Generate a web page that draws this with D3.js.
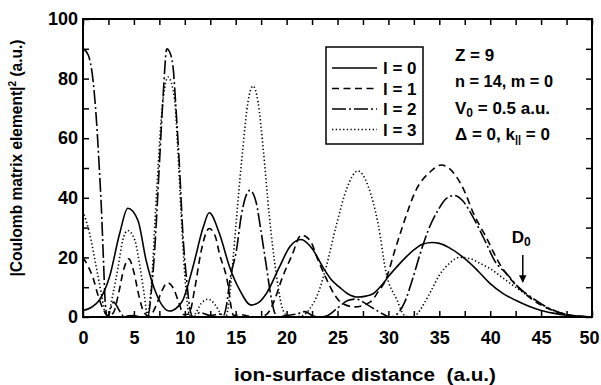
<!DOCTYPE html>
<html>
<head>
<meta charset="utf-8">
<script src="https://cdn.jsdelivr.net/npm/d3@7"></script>
<style>
  body { margin: 0; background: #fff; }
  svg { display: block; font-family: "Liberation Sans", Arial, sans-serif; font-weight: bold; }
</style>
</head>
<body>
<script>
// |Coulomb matrix element|^2 vs ion-surface distance
const l0 = [[0, 2.2], [0.8, 3.2], [1.6, 5.6], [2.6, 13.4], [3.6, 28], [4.4, 36.5], [5.4, 32.4], [6.2, 19], [7.2, 7.8], [8.5, 2], [9.3, 3.4], [9.8, 5.6], [10.8, 16.8], [11.8, 30], [12.4, 35], [13.4, 28], [14.4, 16.8], [15.4, 9], [16.5, 4], [17.3, 5], [18, 7.8], [19.3, 16.8], [20.3, 23.5], [21.4, 26], [22.5, 23], [23.6, 16.5], [24.4, 12.5], [25.2, 10], [26, 7.8], [26.9, 6.7], [27.8, 7], [28.5, 7.8], [29.3, 10.5], [30.1, 14], [31, 17.5], [31.7, 20], [32.5, 22.5], [33.4, 24.5], [34.3, 25], [35, 24.7], [36, 23.2], [37.5, 19.6], [38.5, 16.5], [40, 11.2], [41.2, 8], [42.5, 5.6], [43.8, 3.6], [45, 2.2], [46.2, 1.3], [47.5, 0.6], [49, 0.15], [50, 0]]

const l1 = [[0, 20], [0.5, 17], [1, 13], [1.5, 7], [2, 2.5], [2.5, 0.3], [3, 1.5], [3.5, 8], [4, 16], [4.5, 19.5], [5, 15], [5.5, 7], [6, 1.5], [6.5, 0.3], [7.2, 4], [7.6, 7.5], [8.3, 11.5], [8.9, 9.5], [9.4, 5], [9.9, 0.8], [10.4, 1], [11, 10], [11.6, 22], [12.4, 29.7], [13, 27], [13.4, 21.3], [14.1, 13.4], [14.8, 0.5], [15.5, 0.8], [16.3, 0.3], [17.3, 0], [18, 0.8], [18.4, 2.5], [18.8, 5.6], [19.6, 13.4], [20.5, 20.5], [21.45, 27.5], [22.3, 25.7], [23.1, 19], [23.9, 12.9], [24.7, 7.5], [25.5, 4.5], [26.7, 3.4], [28.2, 5], [29, 8.5], [29.8, 13], [30.6, 22], [31.4, 30.5], [32.7, 42.5], [34.1, 48.7], [35.2, 51], [36.7, 47], [37.5, 42], [38.3, 35.2], [39.6, 26.8], [40.9, 18], [42.1, 12.3], [43.2, 8.5], [44.5, 5], [46, 2.4], [48, 0.6], [50, 0]]

const l2 = [[0, 90], [0.5, 88], [1, 79], [1.3, 67], [1.6, 50], [1.8, 37], [2, 20], [2.2, 4], [2.4, 0], [3, 5], [3.6, 2], [4, 0.3], [5, 0.5], [5.6, 0], [6.4, 0.5], [6.7, 8], [7.05, 23], [7.5, 51], [7.85, 73], [8.24, 90], [8.5, 89], [8.84, 84], [9.17, 68], [9.5, 49], [9.8, 28.5], [10.2, 11.7], [10.5, 2.8], [10.8, 0], [11.5, 1.5], [12.5, 0.5], [13.5, 1], [13.8, 0.5], [14.1, 4], [14.4, 11.7], [15.1, 23], [15.55, 34], [16.4, 42.5], [17, 38.6], [17.5, 28.5], [18, 17.3], [18.5, 6.2], [18.8, 1.7], [19.2, 0], [20, 0.5], [21, 1], [21.8, 1.8], [22.5, 0.5], [23.2, 0], [23.9, 0.3], [25, 3], [26, 5.5], [26.8, 6], [28, 4], [29.2, 1.5], [30.2, 0], [31, 1.5], [31.6, 5], [32.4, 13], [33.1, 21], [33.9, 29], [34.9, 36], [35.7, 39.8], [36.5, 40.8], [37.3, 39], [38.3, 33.6], [39.5, 25.5], [40.5, 18.5], [41.6, 14.6], [42.9, 9.6], [44.2, 6.3], [45.8, 2.9], [47.5, 0.8], [49, 0.2], [50, 0]]

const l3 = [[0, 35.5], [0.65, 28], [1.3, 16.8], [1.8, 7.8], [2.1, 2.2], [2.4, 0.5], [2.95, 7.8], [3.45, 16.8], [3.9, 25.7], [4.4, 29], [5.1, 25.7], [5.6, 16.8], [6.05, 6.7], [6.3, 1], [6.7, 10], [7.2, 40], [7.7, 67], [8.35, 80.5], [9, 73], [9.3, 57], [9.65, 34], [10, 14], [10.3, 3], [10.6, 0], [11, 1], [11.6, 4.5], [12.3, 6], [13, 4], [13.6, 0.8], [14, 0], [14.3, 4], [14.6, 14], [15.1, 34], [15.7, 56.5], [16.2, 72], [16.7, 77.5], [17.2, 72], [17.7, 56.5], [18.3, 34], [19, 14], [19.5, 4], [20, 0.5], [20.5, 0], [21.6, 0.5], [22.3, 2.9], [23.1, 8], [23.9, 17], [24.9, 31], [25.9, 43], [27, 49], [28, 44], [29, 31], [29.8, 14.5], [30.8, 6], [31.6, 0.5], [32.2, 0], [32.7, 0.6], [33.5, 4.5], [34.3, 9.5], [35, 14], [36, 18], [37, 20], [38, 19.6], [39, 18], [40, 16.2], [41.2, 13.2], [42.5, 10], [43.9, 6.7], [45, 4.3], [45.8, 2.8], [47.5, 0.8], [49, 0.2], [50, 0]]

const series = [
  { name: 'l = 0', values: l0, dash: null },
  { name: 'l = 1', values: l1, dash: '7,4.5' },
  { name: 'l = 2', values: l2, dash: '14,3,2,3' },
  { name: 'l = 3', values: l3, dash: '1.3,2.4' },
]

const xTicks = d3.range(0, 50.1, 2.5)
const xLabels = [0, 5, 10, 15, 20, 25, 30, 35, 40, 45, 50]
const yTicks = d3.range(0, 100.1, 10)
const yLabels = [0, 20, 40, 60, 80, 100]
const D0 = 43.2

const W = 601
const H = 385
const margin = { top: 19, right: 9, bottom: 68, left: 83 }
const width = W - margin.left - margin.right
const height = H - margin.top - margin.bottom
const FONT = 17

const svg = d3.select('body').append('svg')
  .attr('width', W)
  .attr('height', H)

const g = svg.append('g')
  .attr('transform', `translate(${margin.left},${margin.top})`)

const x = d3.scaleLinear().domain([0, 50]).range([0, width])
const y = d3.scaleLinear().domain([0, 100]).range([height, 0])

// inward ticks on all four sides
const tickAxis = (axis, scale, values, transform) =>
  g.append('g')
    .attr('transform', transform)
    .call(axis(scale).tickValues(values).tickSizeInner(-6).tickSizeOuter(0).tickFormat(''))
    .call(a => a.select('.domain').remove())
    .call(a => a.selectAll('line').attr('stroke', '#000').attr('stroke-width', 1.5))

tickAxis(d3.axisBottom, x, xTicks, `translate(0,${height})`)
tickAxis(d3.axisTop, x, xTicks, 'translate(0,0)')
tickAxis(d3.axisLeft, y, yTicks, 'translate(0,0)')
tickAxis(d3.axisRight, y, yTicks, `translate(${width},0)`)

// tick labels
g.append('g')
  .attr('transform', `translate(0,${height})`)
  .call(d3.axisBottom(x).tickValues(xLabels).tickSize(0).tickPadding(14))
  .call(a => a.select('.domain').remove())
  .call(a => a.selectAll('text')
    .attr('font-family', null).attr('font-size', 18).attr('fill', '#000')
    .attr('dx', d => d === 50 ? -3 : 0))

g.append('g')
  .call(d3.axisLeft(y).tickValues(yLabels).tickSize(0).tickPadding(5))
  .call(a => a.select('.domain').remove())
  .call(a => a.selectAll('text')
    .attr('font-family', null).attr('font-size', 18).attr('fill', '#000'))

// curves
const line = d3.line()
  .x(d => x(d[0]))
  .y(d => y(d[1]))
  .curve(d3.curveMonotoneX)

g.append('defs').append('clipPath').attr('id', 'clip')
  .append('rect').attr('width', width).attr('height', height)

g.append('g')
  .attr('clip-path', 'url(#clip)')
  .selectAll('path')
  .data(series)
  .join('path')
    .attr('d', d => line(d.values))
    .attr('fill', 'none')
    .attr('stroke', '#000')
    .attr('stroke-width', 1.6)
    .attr('stroke-dasharray', d => d.dash)

// frame
g.append('rect')
  .attr('width', width)
  .attr('height', height)
  .attr('fill', 'none')
  .attr('stroke', '#000')
  .attr('stroke-width', 2)

// legend
const legend = svg.append('g').attr('transform', 'translate(326,47)')
legend.append('rect')
  .attr('width', 97)
  .attr('height', 97)
  .attr('fill', '#fff')
  .attr('stroke', '#000')
  .attr('stroke-width', 1.5)

const rows = legend.selectAll('g.row')
  .data(series)
  .join('g')
    .attr('class', 'row')
    .attr('transform', (d, i) => `translate(0,${21 + i * 20.5})`)

rows.append('line')
  .attr('x1', 6).attr('x2', 51)
  .attr('stroke', '#000')
  .attr('stroke-width', 1.6)
  .attr('stroke-dasharray', d => d.dash)

rows.append('text')
  .attr('x', 57)
  .attr('y', 6)
  .attr('font-size', FONT)
  .text(d => d.name)

// parameters
const params = svg.append('g').attr('font-size', FONT)
params.append('text').attr('x', 455).attr('y', 61).text('Z = 9')
params.append('text').attr('x', 455).attr('y', 87)
  .attr('textLength', 98).attr('lengthAdjust', 'spacingAndGlyphs')
  .text('n = 14, m = 0')
const v0 = params.append('text').attr('x', 455).attr('y', 114)
v0.append('tspan').text('V')
v0.append('tspan').attr('font-size', 12).attr('dy', 3).text('0')
v0.append('tspan').attr('dy', -3).text(' = 0.5 a.u.')
const dk = params.append('text').attr('x', 455).attr('y', 140)
dk.append('tspan').text('\u0394 = 0, k')
dk.append('tspan').attr('font-size', 11).attr('dy', 3).text('||')
dk.append('tspan').attr('dy', -3).text(' = 0')

// D0 marker
const d0 = svg.append('text').attr('x', margin.left + x(D0) - 11).attr('y', 243).attr('font-size', FONT)
d0.append('tspan').text('D')
d0.append('tspan').attr('font-size', 12).attr('dy', 3).text('0')

svg.append('defs').append('marker')
  .attr('id', 'head')
  .attr('viewBox', '0 0 10 10')
  .attr('refX', 9).attr('refY', 5)
  .attr('markerWidth', 5).attr('markerHeight', 6)
  .attr('orient', 'auto')
  .append('path').attr('d', 'M0,0L10,5L0,10Z').attr('fill', '#000')

svg.append('line')
  .attr('x1', margin.left + x(D0)).attr('x2', margin.left + x(D0))
  .attr('y1', 255).attr('y2', 282)
  .attr('stroke', '#000')
  .attr('stroke-width', 1.5)
  .attr('marker-end', 'url(#head)')

// axis titles
const yTitle = svg.append('text')
  .attr('transform', 'translate(22,158) rotate(-90)')
  .attr('text-anchor', 'middle')
  .attr('font-size', FONT)
  .attr('textLength', 237)
  .attr('lengthAdjust', 'spacingAndGlyphs')
yTitle.append('tspan').text('|Coulomb matrix element|')
yTitle.append('tspan').attr('font-size', 11).attr('dy', -6).text('2')
yTitle.append('tspan').attr('dy', 6).text(' (a.u.)')

svg.append('text')
  .attr('x', 365)
  .attr('y', 381)
  .attr('text-anchor', 'middle')
  .attr('font-size', 19)
  .attr('textLength', 262)
  .attr('lengthAdjust', 'spacingAndGlyphs')
  .style('white-space', 'pre')
  .text('ion-surface distance  (a.u.)')
</script>
</body>
</html>
